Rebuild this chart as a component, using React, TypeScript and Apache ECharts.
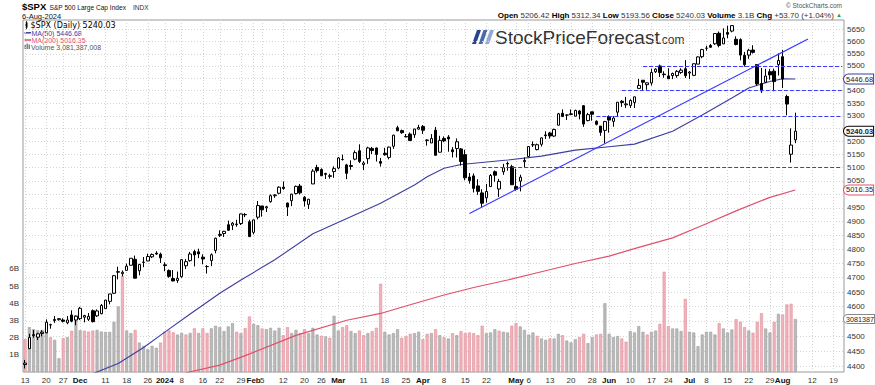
import React, { useEffect, useRef } from "react";
import * as echarts from "echarts";

// ---------- categories ----------
const tradingDates: string[] = [
  "2023-11-13","2023-11-14","2023-11-15","2023-11-16","2023-11-17","2023-11-20","2023-11-21","2023-11-22","2023-11-24","2023-11-27","2023-11-28","2023-11-29","2023-11-30",
  "2023-12-01","2023-12-04","2023-12-05","2023-12-06","2023-12-07","2023-12-08","2023-12-11","2023-12-12","2023-12-13","2023-12-14","2023-12-15","2023-12-18","2023-12-19","2023-12-20","2023-12-21","2023-12-22","2023-12-26","2023-12-27","2023-12-28","2023-12-29",
  "2024-01-02","2024-01-03","2024-01-04","2024-01-05","2024-01-08","2024-01-09","2024-01-10","2024-01-11","2024-01-12","2024-01-16","2024-01-17","2024-01-18","2024-01-19","2024-01-22","2024-01-23","2024-01-24","2024-01-25","2024-01-26","2024-01-29","2024-01-30","2024-01-31",
  "2024-02-01","2024-02-02","2024-02-05","2024-02-06","2024-02-07","2024-02-08","2024-02-09","2024-02-12","2024-02-13","2024-02-14","2024-02-15","2024-02-16","2024-02-20","2024-02-21","2024-02-22","2024-02-23","2024-02-26","2024-02-27","2024-02-28","2024-02-29",
  "2024-03-01","2024-03-04","2024-03-05","2024-03-06","2024-03-07","2024-03-08","2024-03-11","2024-03-12","2024-03-13","2024-03-14","2024-03-15","2024-03-18","2024-03-19","2024-03-20","2024-03-21","2024-03-22","2024-03-25","2024-03-26","2024-03-27","2024-03-28",
  "2024-04-01","2024-04-02","2024-04-03","2024-04-04","2024-04-05","2024-04-08","2024-04-09","2024-04-10","2024-04-11","2024-04-12","2024-04-15","2024-04-16","2024-04-17","2024-04-18","2024-04-19","2024-04-22","2024-04-23","2024-04-24","2024-04-25","2024-04-26","2024-04-29","2024-04-30",
  "2024-05-01","2024-05-02","2024-05-03","2024-05-06","2024-05-07","2024-05-08","2024-05-09","2024-05-10","2024-05-13","2024-05-14","2024-05-15","2024-05-16","2024-05-17","2024-05-20","2024-05-21","2024-05-22","2024-05-23","2024-05-24","2024-05-28","2024-05-29","2024-05-30","2024-05-31",
  "2024-06-03","2024-06-04","2024-06-05","2024-06-06","2024-06-07","2024-06-10","2024-06-11","2024-06-12","2024-06-13","2024-06-14","2024-06-17","2024-06-18","2024-06-20","2024-06-21","2024-06-24","2024-06-25","2024-06-26","2024-06-27","2024-06-28",
  "2024-07-01","2024-07-02","2024-07-03","2024-07-05","2024-07-08","2024-07-09","2024-07-10","2024-07-11","2024-07-12","2024-07-15","2024-07-16","2024-07-17","2024-07-18","2024-07-19","2024-07-22","2024-07-23","2024-07-24","2024-07-25","2024-07-26","2024-07-29","2024-07-30","2024-07-31",
  "2024-08-01","2024-08-02","2024-08-05","2024-08-06",
];
const futureDates: string[] = [
  "2024-08-07","2024-08-08","2024-08-09","2024-08-12","2024-08-13","2024-08-14","2024-08-15","2024-08-16","2024-08-19","2024-08-20","2024-08-21",
];

// ---------- price series (OHLC) ----------
const opens: number[] = [
  4406.66,4458.97,4505.30,4497.08,4509.55,4511.70,4538.77,4553.04,4555.84,4554.86,4545.55,4571.84,4554.87,
  4559.43,4564.37,4557.25,4586.23,4568.84,4576.20,4593.39,4618.30,4646.20,4721.04,4714.23,4725.58,4743.72,4764.73,4724.29,4753.92,4758.86,4773.45,4786.44,4782.88,
  4745.20,4725.07,4697.42,4690.57,4703.70,4741.93,4759.94,4792.13,4791.18,4772.35,4739.13,4760.10,4796.28,4853.42,4856.80,4888.56,4886.66,4888.91,4892.95,4925.89,4899.19,
  4861.11,4916.06,4957.19,4950.16,4973.05,4995.16,5004.17,5026.83,4967.94,4976.44,5003.14,5031.13,4989.32,4963.03,5038.83,5100.92,5093.00,5074.60,5067.20,5085.36,
  5098.51,5130.99,5110.52,5108.03,5132.38,5164.46,5111.96,5134.30,5173.49,5175.14,5123.31,5154.77,5139.09,5181.69,5253.43,5242.48,5219.52,5228.85,5226.31,5248.03,
  5257.97,5204.29,5194.37,5244.05,5158.95,5211.37,5217.03,5167.88,5172.95,5171.51,5149.67,5064.59,5068.97,5031.52,5005.44,4987.33,5028.85,5084.86,5019.88,5084.65,5114.13,5103.78,
  5029.03,5049.32,5122.78,5142.42,5187.20,5168.98,5189.31,5225.49,5233.08,5221.10,5263.26,5310.07,5303.10,5305.35,5298.69,5319.28,5340.26,5281.45,5315.91,5278.73,5259.77,5243.21,
  5297.15,5278.24,5314.48,5357.80,5343.81,5341.22,5353.00,5409.13,5441.93,5424.08,5431.11,5476.15,5499.99,5466.77,5459.58,5460.73,5460.71,5473.59,5488.48,
  5471.08,5461.84,5507.44,5537.91,5572.75,5584.24,5591.26,5635.21,5590.76,5638.16,5644.09,5610.07,5608.56,5543.37,5544.54,5565.30,5505.84,5428.70,5433.67,5476.55,5478.73,5505.59,
  5537.84,5376.63,5151.14,5206.42,
];
const highs: number[] = [
  4421.76,4508.67,4521.17,4511.99,4520.12,4557.11,4542.14,4568.43,4560.31,4560.52,4568.14,4587.64,4569.89,
  4599.39,4572.37,4578.56,4590.74,4590.92,4609.23,4623.74,4643.93,4709.69,4738.57,4725.53,4749.52,4768.69,4778.01,4748.71,4772.94,4784.72,4785.39,4793.30,4788.43,
  4754.33,4729.29,4726.78,4721.49,4764.54,4765.47,4790.80,4798.50,4802.40,4782.34,4744.23,4785.79,4842.07,4868.41,4866.48,4903.68,4898.15,4906.69,4929.31,4931.09,4906.75,
  4906.97,4975.29,4957.19,4957.77,4999.89,5000.40,5030.06,5048.39,4969.34,5002.52,5032.72,5038.70,4993.71,4983.21,5094.39,5111.06,5097.66,5080.69,5077.37,5104.99,
  5140.33,5149.67,5114.54,5127.97,5165.62,5189.26,5124.66,5179.87,5179.14,5176.85,5136.86,5175.60,5180.31,5226.19,5261.10,5246.09,5229.09,5235.16,5249.26,5264.85,
  5263.95,5208.34,5228.75,5256.59,5222.18,5219.57,5224.81,5178.43,5211.78,5175.03,5168.43,5079.84,5077.96,5056.66,5019.02,5038.84,5076.12,5089.48,5057.75,5114.62,5123.49,5110.83,
  5096.12,5073.21,5139.12,5181.00,5200.23,5191.95,5215.30,5239.66,5237.26,5250.37,5311.76,5325.49,5305.45,5325.32,5324.32,5323.18,5341.88,5311.65,5315.91,5282.27,5260.21,5280.33,
  5302.11,5298.80,5354.16,5362.35,5375.08,5365.79,5375.95,5447.25,5441.93,5432.39,5488.50,5490.38,5505.53,5478.31,5490.66,5472.88,5483.14,5490.81,5523.64,
  5479.55,5509.69,5539.27,5570.33,5583.11,5590.75,5635.39,5642.45,5655.56,5666.94,5669.67,5622.49,5614.05,5557.50,5570.36,5585.34,5508.04,5491.59,5488.32,5487.74,5489.46,5551.51,
  5566.16,5383.89,5250.89,5312.34,
];
const lows: number[] = [
  4393.82,4458.97,4495.31,4487.83,4499.66,4510.36,4525.51,4545.05,4552.80,4546.32,4540.51,4547.15,4537.24,
  4554.71,4546.72,4551.68,4546.50,4565.22,4574.06,4593.39,4608.09,4643.23,4694.34,4704.69,4725.58,4743.72,4697.82,4708.35,4736.77,4758.45,4768.90,4780.98,4751.99,
  4722.67,4699.71,4687.53,4682.11,4699.82,4730.35,4756.20,4739.58,4768.98,4747.12,4714.82,4740.57,4785.87,4844.05,4844.37,4865.94,4869.34,4881.47,4887.40,4916.27,4845.15,
  4853.52,4907.99,4918.09,4934.88,4969.05,4987.09,5000.34,5016.83,4920.31,4956.45,4999.44,4999.52,4955.02,4946.00,5038.83,5081.46,5068.91,5057.29,5058.35,5061.89,
  5094.16,5127.18,5056.82,5092.22,5128.21,5117.50,5091.14,5114.48,5151.88,5123.30,5104.35,5145.47,5131.59,5171.55,5240.66,5229.87,5216.09,5203.42,5213.92,5245.82,
  5229.20,5184.05,5194.37,5146.06,5157.21,5197.35,5160.78,5138.70,5138.77,5107.94,5052.47,5039.83,5007.25,4998.14,4953.56,4969.40,5027.96,5047.02,4990.58,5073.14,5088.65,5035.31,
  5013.45,5011.05,5101.22,5142.42,5178.96,5165.86,5180.41,5209.68,5211.16,5217.98,5263.26,5296.19,5283.59,5302.40,5297.87,5286.01,5256.93,5278.39,5280.89,5262.70,5222.10,5191.68,
  5234.32,5257.63,5297.64,5335.36,5331.33,5331.52,5331.33,5409.13,5402.51,5403.75,5420.40,5471.32,5455.56,5452.03,5447.59,5446.56,5451.87,5467.54,5451.12,
  5446.53,5458.43,5507.42,5531.63,5562.51,5574.57,5586.44,5576.53,5590.44,5614.75,5639.02,5584.81,5522.81,5497.04,5529.04,5550.90,5419.98,5390.95,5430.70,5444.44,5397.55,5461.24,
  5410.42,5302.03,5119.26,5193.56,
];
const closes: number[] = [
  4411.55,4495.70,4502.88,4508.24,4514.02,4547.38,4538.19,4556.62,4559.34,4550.43,4554.89,4550.58,4567.80,
  4594.63,4569.78,4567.18,4549.34,4585.59,4604.37,4622.44,4643.70,4707.09,4719.55,4719.19,4740.56,4768.37,4698.35,4746.75,4754.63,4774.75,4781.58,4783.35,4769.83,
  4742.83,4704.81,4688.68,4697.24,4763.54,4756.50,4783.45,4780.24,4783.83,4765.98,4739.21,4780.94,4839.81,4850.43,4864.60,4868.55,4894.16,4890.97,4927.93,4924.97,4845.65,
  4906.19,4958.61,4942.81,4954.23,4995.06,4997.91,5026.61,5021.84,4953.17,5000.62,5029.73,5005.57,4975.51,4981.80,5087.03,5088.80,5069.53,5078.18,5069.76,5096.27,
  5137.08,5130.95,5078.65,5104.76,5157.36,5123.69,5117.94,5175.27,5165.31,5150.48,5117.09,5149.42,5178.51,5224.62,5241.53,5234.18,5218.19,5203.58,5248.49,5254.35,
  5243.77,5205.81,5211.49,5147.21,5204.34,5202.39,5209.91,5160.64,5199.06,5123.41,5061.82,5051.41,5022.21,5011.12,4967.23,5010.60,5070.55,5071.63,5048.42,5099.96,5116.17,5035.69,
  5018.39,5064.20,5127.79,5180.74,5187.70,5187.67,5214.08,5222.68,5221.42,5246.68,5308.15,5297.10,5303.27,5308.13,5321.41,5307.01,5267.84,5304.72,5306.04,5266.95,5235.48,5277.51,
  5283.40,5291.34,5354.03,5352.96,5346.99,5360.79,5375.32,5421.03,5433.74,5431.60,5473.23,5487.03,5473.17,5464.62,5447.87,5469.30,5477.90,5482.87,5460.48,
  5475.09,5509.01,5537.02,5567.19,5572.85,5576.98,5633.91,5584.54,5615.35,5631.22,5667.20,5588.27,5544.59,5505.00,5564.41,5555.74,5427.13,5399.22,5459.10,5463.54,5436.44,5522.30,
  5446.68,5346.56,5186.33,5240.03,
];
const previousClose = 4415.24; // close before the first bar (colours the first volume bar)

// volume, billions of shares
const volumesB: number[] = [
  1.92,2.61,2.49,2.43,2.45,2.55,2.02,1.87,0.80,1.97,
  2.03,2.40,3.30,2.43,2.40,2.35,2.41,2.45,2.35,2.33,
  2.33,2.92,3.81,5.59,2.41,2.26,2.45,1.71,1.52,1.33,
  1.52,1.41,1.71,2.36,2.42,2.31,2.18,2.27,2.18,2.27,
  2.54,2.27,2.54,2.27,2.54,2.69,2.61,2.38,2.65,2.84,
  2.34,2.26,2.55,3.23,2.80,2.72,2.53,2.49,2.57,2.41,
  2.57,2.14,2.61,2.26,2.45,2.26,2.49,2.26,2.57,2.18,
  2.10,2.07,1.99,3.27,2.41,2.61,2.72,2.38,2.26,2.41,
  2.14,2.26,2.38,2.57,5.13,2.34,2.18,2.26,2.49,1.99,
  2.07,2.22,2.26,2.34,1.91,2.22,2.26,2.49,2.14,2.03,
  1.95,2.26,2.14,2.38,2.26,2.30,2.26,2.14,2.69,2.26,
  2.30,2.49,2.40,2.34,2.30,2.69,2.84,2.65,2.45,2.18,
  2.30,2.10,1.95,1.87,1.95,1.95,2.22,2.14,1.83,1.72,
  1.91,2.03,2.22,1.68,2.03,2.18,2.22,4.00,2.22,2.03,
  2.09,1.95,1.76,2.38,2.30,2.67,2.34,2.18,2.34,2.41,
  2.80,5.83,2.67,2.53,2.53,2.38,4.25,2.34,2.30,1.50,
  2.18,2.34,2.34,2.18,2.84,2.53,2.30,2.47,3.07,2.92,
  2.61,2.41,2.28,2.92,3.42,2.53,2.30,2.92,3.38,3.34,
  3.93,3.97,3.08,
];

// moving averages at sample dates
const ma50Dates = ["2023-12-06","2023-12-14","2023-12-22","2024-01-02","2024-01-10","2024-01-22","2024-01-29","2024-02-08","2024-02-22","2024-03-07","2024-03-15","2024-03-27","2024-04-02","2024-04-08","2024-04-12","2024-04-29","2024-05-09","2024-05-21","2024-06-03","2024-06-11","2024-06-25","2024-07-05","2024-07-16","2024-07-22","2024-07-29","2024-08-01","2024-08-06"];
const ma50Values = [4377,4410,4463,4514,4575,4646,4692,4763,4856,4925,4967,5035,5066,5098,5112,5129,5144,5167,5180,5190,5240,5303,5371,5411,5437,5448,5446.68];
const ma200Dates = ["2024-01-09","2024-01-22","2024-01-30","2024-02-15","2024-03-05","2024-03-15","2024-03-27","2024-04-08","2024-04-17","2024-04-29","2024-05-09","2024-05-21","2024-06-03","2024-06-12","2024-06-25","2024-07-05","2024-07-17","2024-07-29","2024-08-06"];
const ma200Values = [4380,4405,4436,4503,4554,4577,4611,4640,4666,4692,4721,4750,4776,4807,4841,4886,4939,4989,5016.35];

// annotations: trend line and horizontal support / resistance levels
const trendDates = ["2024-04-16", "2024-08-09"];
const trendValues = [4929.5, 5611.2];
const levelValues = [5500, 5400, 5300, 5100];
const levelStartDates = ["2024-06-13", "2024-06-06", "2024-05-29", "2024-04-19"];

// axis ticks (grid lines at every tick; labels skipped where a value tag covers them)
const priceTicks = [4400,4450,4500,4550,4600,4650,4700,4750,4800,4850,4900,4950,5000,5050,5100,5150,5200,5250,5300,5350,5400,5450,5500,5550,5600,5650];
const priceLabelTicks = [4400,4450,4500,4600,4650,4700,4750,4800,4850,4900,4950,5050,5100,5150,5200,5300,5350,5400,5500,5550,5600,5650];
const volumeTicks = [1, 2, 3, 4, 5, 6];
const xTickDates = ["2023-11-13","2023-11-20","2023-11-27","2023-12-01","2023-12-11","2023-12-18","2023-12-26","2024-01-02","2024-01-08","2024-01-16","2024-01-22","2024-01-29","2024-02-01","2024-02-05","2024-02-12","2024-02-20","2024-02-26","2024-03-01","2024-03-11","2024-03-18","2024-03-25","2024-04-01","2024-04-08","2024-04-15","2024-04-22","2024-05-01","2024-05-06","2024-05-13","2024-05-20","2024-05-28","2024-06-03","2024-06-10","2024-06-17","2024-06-24","2024-07-01","2024-07-08","2024-07-15","2024-07-22","2024-07-29","2024-08-01","2024-08-12","2024-08-19"];
const xTickTexts = ["13","20","27","Dec","11","18","26","2024","8","16","22","29","Feb","5","12","20","26","Mar","11","18","25","Apr","8","15","22","May","6","13","20","28","Jun","10","17","24","Jul","8","15","22","29","Aug","12","19"];
const boldTickTexts = ["Dec","2024","Feb","Mar","Apr","May","Jun","Jul","Aug"];

const FONT = "'Liberation Sans', Arial, sans-serif";
const MA50_COLOR = "#3d3d9e";
const MA200_COLOR = "#e0506a";
const TREND_COLOR = "#3a3aff";
const INVISIBLE = "rgba(0,0,0,0)";

function buildOption(): any {
  const allDates = [...tradingDates, ...futureDates];
  const labelMap: Record<string, string> = {};
  xTickDates.forEach((d, i) => (labelMap[d] = xTickTexts[i]));
  const showTick = (idx: number) => labelMap[allDates[idx]] !== undefined;

  const candles = tradingDates.map((_, i) => [opens[i], closes[i], lows[i], highs[i]]);
  const volumes = volumesB.map((v, i) => {
    const prev = i === 0 ? previousClose : closes[i - 1];
    const up = closes[i] >= prev;
    return {
      value: v,
      itemStyle: up
        ? { color: "#bababa", borderColor: "#9e9e9e", borderWidth: 0.6 }
        : { color: "#f0b3bb", borderColor: "#e08e9a", borderWidth: 0.6 },
    };
  });
  const ma50 = ma50Dates.map((d, i) => [d, ma50Values[i]]);
  const ma200 = ma200Dates.map((d, i) => [d, ma200Values[i]]);
  const lastDate = allDates[allDates.length - 1];
  const lastClose = closes[closes.length - 1];
  const lastVol = volumesB[volumesB.length - 1];

  const tag = (text: string, border: string, bold = false, size = 7.5) => ({
    show: true,
    position: "end",
    distance: 0,
    formatter: text,
    fontSize: size,
    fontFamily: FONT,
    fontWeight: bold ? "bold" : "normal",
    color: "#222",
    opacity: 1,
    backgroundColor: "#fff",
    borderColor: border,
    borderWidth: 1,
    borderRadius: [5, 0, 0, 5],
    padding: [1, 0, 0, 2],
  });
  const hiddenLine = { color: INVISIBLE, width: 0, opacity: 1 };

  const gridLine = { color: "#d4d4d4", type: [1, 2], width: 1 };

  return {
    animation: false,
    textStyle: { fontFamily: FONT },
    grid: { left: 23, right: 31, top: 20, bottom: 13, show: true, borderColor: "#9a9a9a", borderWidth: 1 },
    xAxis: {
      type: "category",
      data: allDates,
      boundaryGap: true,
      axisLine: { show: false },
      axisTick: { show: false },
      axisLabel: {
        interval: (idx: number) => showTick(idx),
        formatter: (v: string) => {
          const t = labelMap[v] ?? "";
          return boldTickTexts.includes(t) ? `{b|${t}}` : t;
        },
        fontSize: 8,
        color: "#333",
        margin: 4,
        rich: { b: { fontWeight: "bold", fontSize: 8, color: "#111", fontFamily: FONT } },
      },
      splitLine: { show: true, interval: (idx: number) => showTick(idx), alignWithLabel: true, lineStyle: gridLine },
    },
    yAxis: [
      {
        type: "log",
        logBase: 10,
        position: "right",
        min: 4382.4,
        max: 5690.8,
        axisLine: { show: false },
        axisTick: { show: false, customValues: priceTicks },
        axisLabel: {
          customValues: priceLabelTicks,
          fontSize: 8,
          color: "#333",
          margin: 3,
          formatter: (v: number) => String(Math.round(v)),
        },
        splitLine: { show: true, lineStyle: gridLine },
      },
      {
        type: "value",
        position: "left",
        min: 0,
        max: 20.47,
        axisLine: { show: false },
        axisTick: { show: false },
        axisLabel: {
          customValues: volumeTicks,
          fontSize: 8,
          color: "#333",
          margin: 4,
          formatter: (v: number) => `${v}B`,
        },
        splitLine: { show: false },
      },
    ],
    series: [
      {
        name: "Volume",
        type: "bar",
        yAxisIndex: 1,
        data: volumes,
        barWidth: 3,
        z: 1,
        markLine: {
          silent: true,
          symbol: "none",
          z: 10,
          data: [{ yAxis: lastVol, lineStyle: hiddenLine, label: tag("3081387", "#888", false, 7.2) }],
        },
      },
      {
        name: "MA200",
        type: "line",
        data: ma200,
        showSymbol: false,
        lineStyle: { color: MA200_COLOR, width: 1.2 },
        z: 2,
        markLine: {
          silent: true,
          symbol: "none",
          z: 10,
          data: [{ yAxis: 5016.35, lineStyle: hiddenLine, label: tag("5016.35", MA200_COLOR) }],
        },
      },
      {
        name: "MA50",
        type: "line",
        data: ma50,
        showSymbol: false,
        lineStyle: { color: MA50_COLOR, width: 1.1 },
        z: 2,
        markLine: {
          silent: true,
          symbol: "none",
          z: 10,
          label: { show: false },
          data: [
            [
              { coord: [trendDates[0], trendValues[0]], lineStyle: { color: TREND_COLOR, width: 1.2, type: "solid" } },
              { coord: [trendDates[1], trendValues[1]] },
            ],
            ...levelValues.map((lv, i) => [
              { coord: [levelStartDates[i], lv], lineStyle: { color: TREND_COLOR, width: 1, type: [4, 2] } },
              { coord: [lastDate, lv] },
            ]),
            { yAxis: 5446.68, lineStyle: hiddenLine, label: tag("5446.68", MA50_COLOR) },
            { yAxis: lastClose, lineStyle: hiddenLine, label: tag(lastClose.toFixed(2), "#000", true) },
          ],
        },
      },
      {
        name: "$SPX",
        type: "candlestick",
        data: candles,
        barWidth: 3,
        z: 3,
        itemStyle: {
          color: "#ffffff",
          color0: "#000000",
          borderColor: "#000000",
          borderColor0: "#000000",
          borderColorDoji: "#000000",
          borderWidth: 1,
        },
      },
    ],
    graphic: [
      // title block
      { type: "text", x: 22, y: 6.5, style: { text: "$SPX", font: `bold 9.5px ${FONT}`, fill: "#000", verticalAlign: "middle", textVerticalAlign: "middle" } },
      { type: "text", x: 49.5, y: 7, style: { text: "S&P 500 Large Cap Index", font: `6.6px ${FONT}`, fill: "#111", verticalAlign: "middle", textVerticalAlign: "middle" } },
      { type: "text", x: 133, y: 7, style: { text: "INDX", font: `6.6px ${FONT}`, fill: "#333", verticalAlign: "middle", textVerticalAlign: "middle" } },
      { type: "text", x: 22, y: 16.4, style: { text: "6-Aug-2024", font: `7.5px ${FONT}`, fill: "#111", verticalAlign: "middle", textVerticalAlign: "middle" } },
      { type: "text", x: 842, y: 5.5, style: { text: "© StockCharts.com", font: `6.5px ${FONT}`, fill: "#555", align: "right", textAlign: "right", verticalAlign: "middle", textVerticalAlign: "middle" } },
      {
        type: "text",
        x: 842,
        y: 15,
        style: {
          text: "{b|Open} 5206.42 {b|High} 5312.34 {b|Low} 5193.56 {b|Close} 5240.03 {b|Volume} 3.1B {b|Chg} +53.70 (+1.04%) {g|▲}",
          font: `8px ${FONT}`,
          fill: "#333",
          align: "right",
          textAlign: "right",
          verticalAlign: "middle",
          textVerticalAlign: "middle",
          rich: {
            b: { fontWeight: "bold", fill: "#000", fontSize: 8, fontFamily: FONT },
            g: { fill: "#2e9e3e", fontSize: 6, fontFamily: FONT },
          },
        },
      },
      // legend inside the plot
      { type: "rect", shape: { x: 25.5, y: 22.5, width: 2, height: 5 }, style: { fill: "#000" } },
      { type: "line", shape: { x1: 26.5, y1: 21, x2: 26.5, y2: 29 }, style: { stroke: "#000", lineWidth: 0.8 } },
      { type: "text", x: 30.5, y: 25.5, style: { text: "$SPX (Daily) 5240.03", font: `8px 'DejaVu Sans', sans-serif`, fill: "#000", verticalAlign: "middle", textVerticalAlign: "middle" } },
      { type: "line", shape: { x1: 24.5, y1: 32.8, x2: 31, y2: 32.8 }, style: { stroke: MA50_COLOR, lineWidth: 1.5 } },
      { type: "text", x: 31.5, y: 33, style: { text: "MA(50) 5446.68", font: `7px ${FONT}`, fill: MA50_COLOR, verticalAlign: "middle", textVerticalAlign: "middle" } },
      { type: "line", shape: { x1: 24.5, y1: 40, x2: 31, y2: 40 }, style: { stroke: MA200_COLOR, lineWidth: 1.5 } },
      { type: "text", x: 31.5, y: 40.2, style: { text: "MA(200) 5016.35", font: `7px ${FONT}`, fill: MA200_COLOR, verticalAlign: "middle", textVerticalAlign: "middle" } },
      { type: "rect", shape: { x: 24.5, y: 45, width: 1.4, height: 4 }, style: { fill: "#777" } },
      { type: "rect", shape: { x: 26.5, y: 43.5, width: 1.4, height: 5.5 }, style: { fill: "#777" } },
      { type: "rect", shape: { x: 28.5, y: 44.5, width: 1.4, height: 4.5 }, style: { fill: "#777" } },
      { type: "text", x: 31, y: 47.3, style: { text: "Volume 3,081,387,008", font: `7px ${FONT}`, fill: "#555", verticalAlign: "middle", textVerticalAlign: "middle" } },
      // StockPriceForecast logo
      { type: "polygon", shape: { points: [[472, 44], [476, 44], [481, 30], [477, 30]] }, style: { fill: "#27468a" } },
      { type: "polygon", shape: { points: [[478.5, 44], [482.5, 44], [487.5, 30], [483.5, 30]] }, style: { fill: "#4a6aac" } },
      { type: "polygon", shape: { points: [[485, 44], [489, 44], [494, 30], [490, 30]] }, style: { fill: "#93a8d2" } },
      { type: "text", x: 495, y: 37.3, style: { text: "StockPriceForecast", font: `19px ${FONT}`, fill: "#333", verticalAlign: "middle", textVerticalAlign: "middle" } },
      { type: "text", x: 658.5, y: 40, style: { text: ".com", font: `12px ${FONT}`, fill: "#333", verticalAlign: "middle", textVerticalAlign: "middle" } },
    ],
  };
}

export default function App() {
  const ref = useRef<HTMLDivElement>(null);
  useEffect(() => {
    if (!ref.current) return;
    const chart = echarts.init(ref.current, undefined, { renderer: "svg" });
    chart.setOption(buildOption());
    return () => chart.dispose();
  }, []);
  return (
    <div
      ref={ref}
      style={{ position: "fixed", left: 0, top: 0, width: 875, height: 385, background: "#fff" }}
    />
  );
}
